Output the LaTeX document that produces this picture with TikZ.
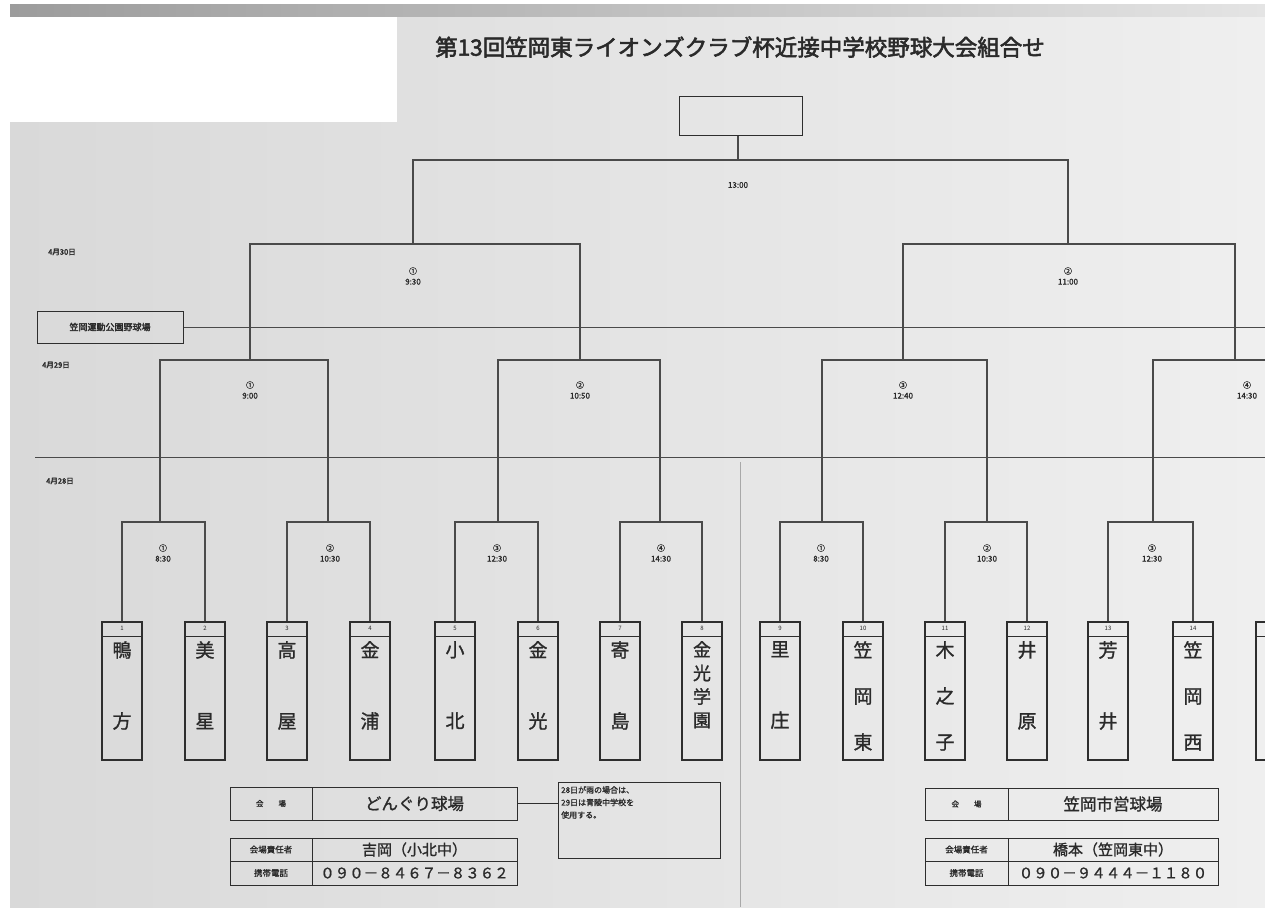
\documentclass[tikz,border=0pt]{standalone}
\usepackage{fontspec}
\setmainfont{Noto Sans CJK JP}
\newfontfamily\jpb[FakeBold=2.5]{Noto Sans CJK JP}
\newfontfamily\jpm[FakeBold=1.2]{Noto Sans CJK JP}
\definecolor{lc}{HTML}{4A4A4A}
\definecolor{tc}{HTML}{2E2E2E}
\definecolor{txt}{HTML}{2A2A2A}
\definecolor{bgL}{HTML}{D9D9D9}
\definecolor{bgR}{HTML}{EFEFEF}
\definecolor{bandL}{HTML}{9C9C9C}
\definecolor{bandR}{HTML}{E4E4E4}
\definecolor{divc}{HTML}{A8A8A8}
\begin{document}
\begin{tikzpicture}[x=1pt,y=-1pt,
  ln/.style={draw=lc, line width=1.1pt},
  teambox/.style={draw=tc, line width=1.8pt, minimum width=40pt, minimum height=138pt, inner sep=0pt},
  numf/.style={font=\fontsize{6}{7}\selectfont, text=txt, inner sep=0pt},
  nmtwo/.style={anchor=north, align=center, inner sep=0pt, text=txt, font=\jpm\fontsize{19}{71}\selectfont},
  nmthree/.style={anchor=north, align=center, inner sep=0pt, text=txt, font=\jpm\fontsize{19}{46}\selectfont},
  nmfour/.style={anchor=north, align=center, inner sep=0pt, text=txt, font=\jpm\fontsize{18}{23.5}\selectfont},
  lbl/.style={font=\jpm\fontsize{8}{10.5}\selectfont, align=center, text=txt, inner sep=0pt},
  datel/.style={font=\jpb\fontsize{7.5}{8}\selectfont, text=txt, inner sep=0pt},
  cell/.style={draw=tc, line width=1pt, inner sep=0pt, text=txt},
]
\useasboundingbox (0,0) rectangle (1265,907);
% background
\fill[white] (0,0) rectangle (1265,907);
\shade[left color=bgL, right color=bgR] (10,5) rectangle (1265,907);
\shade[left color=bandL, right color=bandR] (10,5) rectangle (1265,17);
\fill[white] (10,17) rectangle (397,122);

% title
\node[font=\jpb\fontsize{22.5}{26}\selectfont, text=txt] (title) at (740,47) {第13回笠岡東ライオンズクラブ杯近接中学校野球大会組合せ};

% champion box
\node[draw=tc, line width=1.6pt, minimum width=123pt, minimum height=39pt, inner sep=0pt] (champ) at (741,116) {};

% date labels and venue
\node[datel] (d30) at (62,252) {4月30日};
\node[datel] (d29) at (56,365) {4月29日};
\node[datel] (d28) at (60,481) {4月28日};
\node[draw=tc, line width=1pt, minimum width=146pt, minimum height=32pt, inner sep=0pt,
      font=\jpb\fontsize{9}{10}\selectfont, text=txt] (vb) at (110,327) {笠岡運動公園野球場};
\coordinate (edgeA) at (1265,327);
\coordinate (lineBL) at (35,457);
\coordinate (lineBR) at (1265,457);
\draw[lc, line width=1pt] (vb.east) -- (edgeA);
\draw[lc, line width=1pt] (lineBL) -- (lineBR);
\coordinate (divT) at (740,462);
\coordinate (divB) at (740,907);
\draw[divc, line width=0.8pt] (divT) -- (divB);

% teams
\foreach \n/\x in {1/122,2/205,3/287,4/370,5/455,6/538,7/620,8/702,9/780,10/863,11/945,12/1027,13/1108,14/1193,15/1276} {
  \node[teambox] (t\n) at (\x,691) {};
  \draw[tc, line width=1.2pt] ([yshift=-15pt]t\n.north west) -- ([yshift=-15pt]t\n.north east);
}
\foreach \n in {1,...,14} {
  \node[numf] (n\n) at ([yshift=-7.5pt]t\n.north) {\n};
}
\node[nmtwo] (nm1) at (122,641) {鴨\\方};
\node[nmtwo] (nm2) at (205,641) {美\\星};
\node[nmtwo] (nm3) at (287,641) {高\\屋};
\node[nmtwo] (nm4) at (370,641) {金\\浦};
\node[nmtwo] (nm5) at (455,641) {小\\北};
\node[nmtwo] (nm6) at (538,641) {金\\光};
\node[nmtwo] (nm7) at (620,641) {寄\\島};
\node[nmfour] (nm8) at (702,641) {金\\光\\学\\園};
\node[nmtwo] (nm9) at (780,641) {里\\庄};
\node[nmthree] (nm10) at (863,641) {笠\\岡\\東};
\node[nmthree] (nm11) at (945,641) {木\\之\\子};
\node[nmtwo] (nm12) at (1027,641) {井\\原};
\node[nmtwo] (nm13) at (1108,641) {芳\\井};
\node[nmthree] (nm14) at (1193,641) {笠\\岡\\西};

% first round (4/28)
\coordinate (r1) at (160,522);
\coordinate (r2) at (328,522);
\coordinate (r3) at (498,522);
\coordinate (r4) at (660,522);
\coordinate (r5) at (822,522);
\coordinate (r6) at (987,522);
\coordinate (r7) at (1153,522);
\draw[ln] (t1.north) |- (r1) -| (t2.north);
\draw[ln] (t3.north) |- (r2) -| (t4.north);
\draw[ln] (t5.north) |- (r3) -| (t6.north);
\draw[ln] (t7.north) |- (r4) -| (t8.north);
\draw[ln] (t9.north) |- (r5) -| (t10.north);
\draw[ln] (t11.north) |- (r6) -| (t12.north);
\draw[ln] (t13.north) |- (r7) -| (t14.north);
\node[lbl] (lr1) at (163,553) {①\\8:30};
\node[lbl] (lr2) at (330,553) {②\\10:30};
\node[lbl] (lr3) at (497,553) {③\\12:30};
\node[lbl] (lr4) at (661,553) {④\\14:30};
\node[lbl] (lr5) at (821,553) {①\\8:30};
\node[lbl] (lr6) at (987,553) {②\\10:30};
\node[lbl] (lr7) at (1152,553) {③\\12:30};

% quarterfinals (4/29)
\coordinate (q1) at (250,360);
\coordinate (q2) at (580,360);
\coordinate (q3) at (903,360);
\coordinate (q4) at (1235,360);
\coordinate (q4r) at (1300,360);
\draw[ln] (r1) |- (q1) -| (r2);
\draw[ln] (r3) |- (q2) -| (r4);
\draw[ln] (r5) |- (q3) -| (r6);
\draw[ln] (r7) |- (q4) -- (q4r);
\node[lbl] (lq1) at (250,390) {①\\9:00};
\node[lbl] (lq2) at (580,390) {②\\10:50};
\node[lbl] (lq3) at (903,390) {③\\12:40};
\node[lbl] (lq4) at (1247,390) {④\\14:30};

% semifinals (4/30)
\coordinate (s1) at (413,244);
\coordinate (s2) at (1068,244);
\draw[ln] (q1) |- (s1) -| (q2);
\draw[ln] (q3) |- (s2) -| (q4);
\node[lbl] (ls1) at (413,276) {①\\9:30};
\node[lbl] (ls2) at (1068,276) {②\\11:00};

% final
\coordinate (f) at (738,160);
\draw[ln] (s1) |- (f) -| (s2);
\draw[ln] (f) -- (f |- champ.south);
\node[lbl] (lf) at (738,185) {13:00};

% venue tables left
\node[cell, minimum width=82pt, minimum height=33pt, font=\jpm\fontsize{7.5}{9}\selectfont] (a1k) at (271,803.5) {会　　場};
\node[cell, minimum width=205pt, minimum height=33pt, font=\jpm\fontsize{16.5}{19}\selectfont] (a1v) at (414.5,803.5) {どんぐり球場};
\node[cell, minimum width=82pt, minimum height=23pt, font=\jpm\fontsize{8.5}{10}\selectfont] (a2k) at (271,849.5) {会場責任者};
\node[cell, minimum width=205pt, minimum height=23pt, font=\jpm\fontsize{15}{17}\selectfont] (a2v) at (414.5,849.5) {吉岡（小北中）};
\node[cell, minimum width=82pt, minimum height=24pt, font=\jpm\fontsize{8.5}{10}\selectfont] (a3k) at (271,873) {携帯電話};
\node[cell, minimum width=205pt, minimum height=24pt, font=\jpm\fontsize{14.5}{17}\selectfont] (a3v) at (414.5,873) {０９０－８４６７－８３６２};
\node[draw=tc, line width=1pt, minimum width=162pt, minimum height=76pt, inner sep=0pt] (note) at (639,820) {};
\node[anchor=north west, align=left, inner sep=0pt, text=txt, font=\jpm\fontsize{8}{12.5}\selectfont] (notet) at (561,786) {28日が雨の場合は、\\29日は青陵中学校を\\使用する。};
\draw[tc, line width=1pt] (a1v.east) -- (a1v.east -| note.west);

% venue tables right
\node[cell, minimum width=83pt, minimum height=32pt, font=\jpm\fontsize{7.5}{9}\selectfont] (b1k) at (966.5,804) {会　　場};
\node[cell, minimum width=210pt, minimum height=32pt, font=\jpm\fontsize{16.5}{19}\selectfont] (b1v) at (1113,804) {笠岡市営球場};
\node[cell, minimum width=83pt, minimum height=23pt, font=\jpm\fontsize{8.5}{10}\selectfont] (b2k) at (966.5,849.5) {会場責任者};
\node[cell, minimum width=210pt, minimum height=23pt, font=\jpm\fontsize{15}{17}\selectfont] (b2v) at (1113,849.5) {橋本（笠岡東中）};
\node[cell, minimum width=83pt, minimum height=24pt, font=\jpm\fontsize{8.5}{10}\selectfont] (b3k) at (966.5,873) {携帯電話};
\node[cell, minimum width=210pt, minimum height=24pt, font=\jpm\fontsize{14.5}{17}\selectfont] (b3v) at (1113,873) {０９０－９４４４－１１８０};
\end{tikzpicture}
\end{document}
